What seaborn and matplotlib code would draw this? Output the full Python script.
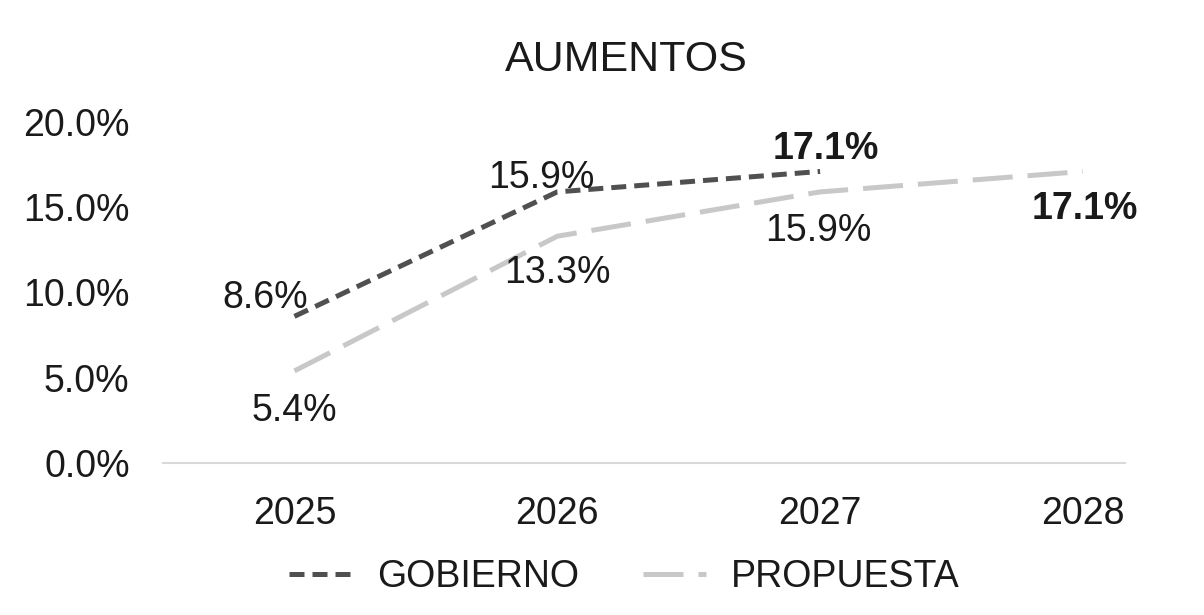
import matplotlib
matplotlib.use("Agg")
import matplotlib.pyplot as plt
import seaborn as sns
import pandas as pd

years = ["2025", "2026", "2027", "2028"]
gobierno = [8.6, 15.9, 17.1]
propuesta = [5.4, 13.3, 15.9, 17.1]
series_names = ["GOBIERNO", "PROPUESTA"]
title = "AUMENTOS"
yticks = [0, 5, 10, 15, 20]

sns.set_style("white")
plt.rcParams['font.family'] = ['Liberation Sans', 'DejaVu Sans']

df = pd.DataFrame({
    "year": years[:len(gobierno)] + years,
    "value": gobierno + propuesta,
    "serie": [series_names[0]] * len(gobierno) + [series_names[1]] * len(propuesta),
})

fig = plt.figure(figsize=(12.04, 6.15), dpi=100)
ax = fig.add_axes([163/1204, 1-463/615, (1125-163)/1204, (463-122)/615])

sns.lineplot(data=df, x="year", y="value", hue="serie", style="serie",
             palette={"GOBIERNO": "#505050", "PROPUESTA": "#c8c8c8"},
             dashes={"GOBIERNO": (3, 1.6), "PROPUESTA": (8, 3)},
             linewidth=3.6, ax=ax, legend=True, sort=False)

ax.set_ylim(0, 20)
ax.set_xlim(-0.5, 3.16)
ax.set_yticks(yticks)
ax.set_yticklabels([f"{v:.1f}%" for v in yticks])
ax.tick_params(axis='y', length=0, pad=24, labelsize=27, colors="#1a1a1a")
ax.tick_params(axis='x', length=0, pad=24, labelsize=27, colors="#1a1a1a")
ax.set_xlabel("")
ax.set_ylabel("")
for s in ["top", "right", "left"]:
    ax.spines[s].set_visible(False)
ax.spines["bottom"].set_color("#d9d9d9")
ax.spines["bottom"].set_linewidth(1.5)

# labels
gob_off = [(-29, 18), (-16, 14), (6, 22)]
prop_off = [(0, -40), (0, -37), (-2, -39), (2, -38)]
for i, v in enumerate(gobierno):
    bold = i == len(gobierno) - 1
    ax.annotate(f"{v:.1f}%", (i, v), xytext=gob_off[i], textcoords="offset pixels",
                ha="center", va="center", fontsize=27, color="#1a1a1a",
                fontweight="bold" if bold else "normal")
for i, v in enumerate(propuesta):
    bold = i == len(propuesta) - 1
    ax.annotate(f"{v:.1f}%", (i, v), xytext=prop_off[i], textcoords="offset pixels",
                ha="center", va="center", fontsize=27, color="#1a1a1a",
                fontweight="bold" if bold else "normal")

fig.text(626/1204, 1-60/615, title, ha="center", va="center", fontsize=31, color="#1a1a1a")

handles, labels = ax.get_legend_handles_labels()
ax.get_legend().remove()
fig.legend(handles, labels, loc="center", bbox_to_anchor=(624/1204, 1-577/615),
           ncol=2, frameon=False, fontsize=27, handlelength=1.7, columnspacing=1.7,
           handletextpad=0.65, labelcolor="#1a1a1a")

fig.savefig("out.png", dpi=100, facecolor="white")
